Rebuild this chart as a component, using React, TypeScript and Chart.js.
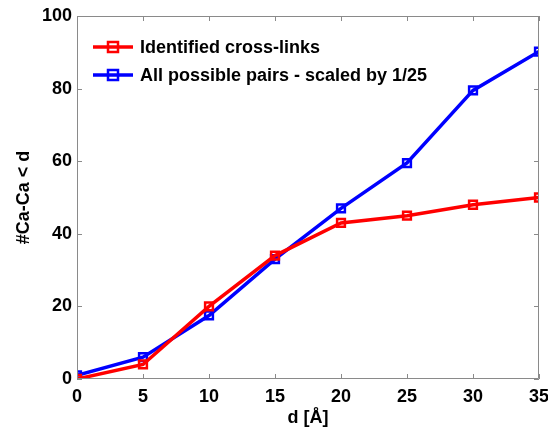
import React, { useEffect, useRef } from "react";
import { Chart, registerables } from "chart.js";

Chart.register(...registerables);

const distances = [0, 5, 10, 15, 20, 25, 30, 35];
const identifiedCrossLinks = [0, 4, 20, 34, 43, 45, 48, 50];
const allPairsScaled = [1, 6, 17.5, 33, 47, 59.5, 79.5, 90.2];
const seriesLabels = ["Identified cross-links", "All possible pairs - scaled by 1/25"];
const seriesColors = ["#ff0000", "#0000ff"];
const xTicks = [0, 5, 10, 15, 20, 25, 30, 35];
const yTicks = [0, 20, 40, 60, 80, 100];

const FONT = "'Liberation Sans', Arial, sans-serif";

const boxPlugin = {
  id: "matlabBox",
  afterDraw(chart: any) {
    const { ctx, chartArea } = chart;
    const { left, right, top, bottom } = chartArea;
    const xs = chart.scales.x;
    const ys = chart.scales.y;
    ctx.save();
    ctx.strokeStyle = "#8a8a8a";
    ctx.lineWidth = 1;
    ctx.beginPath();
    ctx.rect(left + 0.5, top + 0.5, right - left - 1, bottom - top - 1);
    const tl = 5;
    xTicks.forEach((v) => {
      const px = Math.round(xs.getPixelForValue(v)) + 0.5;
      ctx.moveTo(px, bottom);
      ctx.lineTo(px, bottom - tl);
      ctx.moveTo(px, top);
      ctx.lineTo(px, top + tl);
    });
    yTicks.forEach((v) => {
      const py = Math.round(ys.getPixelForValue(v)) + 0.5;
      ctx.moveTo(left, py);
      ctx.lineTo(left + tl, py);
      ctx.moveTo(right, py);
      ctx.lineTo(right - tl, py);
    });
    ctx.stroke();

    // legend
    const lx0 = left + 16;
    const lx1 = left + 56;
    const rows = [top + 31, top + 59];
    chart.data.datasets.forEach((ds: any, i: number) => {
      const y = rows[i];
      ctx.strokeStyle = ds.borderColor;
      ctx.lineWidth = 3.5;
      ctx.beginPath();
      ctx.moveTo(lx0, y);
      ctx.lineTo(lx1, y);
      ctx.stroke();
      ctx.lineWidth = 2.5;
      const cx = (lx0 + lx1) / 2;
      ctx.strokeRect(cx - 5, y - 5, 10, 10);
      ctx.fillStyle = "#000";
      ctx.font = `bold 18px ${FONT}`;
      ctx.textBaseline = "middle";
      ctx.textAlign = "left";
      ctx.fillText(ds.label, lx1 + 7, y + 1);
    });
    ctx.restore();
  },
};

export default function App() {
  const ref = useRef<HTMLCanvasElement>(null);
  useEffect(() => {
    const chart = new Chart(ref.current!, {
      type: "line",
      data: {
        labels: distances,
        datasets: [identifiedCrossLinks, allPairsScaled].map((vals, i) => ({
          label: seriesLabels[i],
          data: vals.map((v, j) => ({ x: distances[j], y: v })),
          borderColor: seriesColors[i],
          backgroundColor: "rgba(0,0,0,0)",
          borderWidth: 3.5,
          pointStyle: "rect",
          pointRadius: 5.5,
          pointBorderWidth: 2.5,
          pointBackgroundColor: "rgba(0,0,0,0)",
          pointBorderColor: seriesColors[i],
          tension: 0,
        })),
      },
      plugins: [boxPlugin],
      options: {
        animation: false,
        responsive: false,
        maintainAspectRatio: false,
        layout: { padding: { top: 16, right: 9, left: 0, bottom: 0 } },
        plugins: { legend: { display: false }, tooltip: { enabled: false } },
        scales: {
          x: {
            type: "linear",
            min: 0,
            max: 35,
            afterBuildTicks: (s: any) => {
              s.ticks = xTicks.map((v) => ({ value: v }));
            },
            afterFit: (s: any) => {
              s.height = 53;
              s.paddingLeft = 0;
              s.paddingRight = 0;
            },
            grid: { display: false, drawTicks: false, tickLength: 0 },
            border: { display: false },
            ticks: {
              color: "#000",
              font: { family: FONT, size: 18, weight: "bold" },
              padding: 7,
              maxRotation: 0,
            },
            title: {
              display: true,
              text: "d [Å]",
              color: "#000",
              font: { family: FONT, size: 18, weight: "bold" },
              padding: { top: 0, bottom: 3 },
            },
          },
          y: {
            min: 0,
            max: 100,
            afterBuildTicks: (s: any) => {
              s.ticks = yTicks.map((v) => ({ value: v }));
            },
            afterFit: (s: any) => {
              s.width = 77;
              s.paddingTop = 0;
              s.paddingBottom = 0;
            },
            grid: { display: false, drawTicks: false, tickLength: 0 },
            border: { display: false },
            ticks: {
              color: "#000",
              font: { family: FONT, size: 18, weight: "bold" },
              padding: 5,
            },
            title: {
              display: true,
              text: "#Ca-Ca < d",
              color: "#000",
              font: { family: FONT, size: 18, weight: "bold" },
              padding: { top: 13, bottom: 0 },
            },
          },
        },
      },
    } as any);
    return () => chart.destroy();
  }, []);
  return (
    <div style={{ position: "fixed", left: 0, top: 0, width: 548, height: 432, background: "#fff" }}>
      <canvas ref={ref} width={548} height={432} />
    </div>
  );
}
